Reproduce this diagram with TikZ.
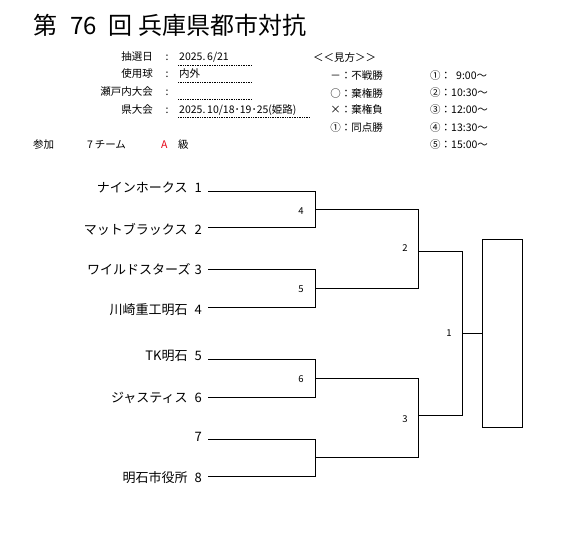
\documentclass[tikz,border=0pt]{standalone}
\usepackage{fontspec}
\setmainfont{Noto Sans CJK JP}
\usetikzlibrary{positioning}
\definecolor{gradeRed}{HTML}{E60012}

\begin{document}
\begin{tikzpicture}[x=1pt, y=-1pt,
    team/.style={anchor=east, inner sep=0pt, font=\fontsize{13}{14}\selectfont},
    info/.style={inner sep=0pt, font=\fontsize{10.5}{11}\selectfont},
    mnum/.style={inner sep=0pt, font=\fontsize{9.5}{10}\selectfont},
    brk/.style={line width=0.8pt},
    dotl/.style={densely dotted, line width=0.7pt},
  ]
    \useasboundingbox (0,0) rectangle (563,536);

    % title
    \node[anchor=west, inner sep=0pt, font=\fontsize{24}{26}\selectfont]
      (title) at (33,25) {第\hspace{13pt}76\hspace{12pt}回\hspace{6pt}兵庫県都市対抗};

    % header
    \node[info, anchor=east] (lab1) at (153,57)  {抽選日};
    \node[info, anchor=east] (lab2) at (153,74)  {使用球};
    \node[info, anchor=east] (lab3) at (153,92)  {瀬戸内大会};
    \node[info, anchor=east] (lab4) at (153,110) {県大会};
    \node[info] (col1) at (167,58)  {:};
    \node[info] (col2) at (167,75)  {:};
    \node[info] (col3) at (167,93)  {:};
    \node[info] (col4) at (167,111) {:};
    \node[info, anchor=west] (val1) at (179,57)  {2025.\,6/21};
    \node[info, anchor=west] (val2) at (179,74)  {内外};
    \node[info, anchor=west] (val4) at (179,110) {2025.\,10/18･19･25(姫路)};
    \draw[dotl] (178,65) -- ++(74,0);
    \draw[dotl] (178,82) -- ++(74,0);
    \draw[dotl] (178,99) -- ++(74,0);
    \draw[dotl] (178,117) -- ++(132,0);

    % legend
    \node[info, anchor=west] (key)  at (313,58)  {＜＜見方＞＞};
    \node[info, anchor=east] (key1) at (383,76)  {－：不戦勝};
    \node[info, anchor=east] (key2) at (383,93)  {○：棄権勝};
    \node[info, anchor=east] (key3) at (383,110) {×：棄権負};
    \node[info, anchor=east] (key4) at (383,128) {①：同点勝};
    \node[info, anchor=west] (tm1) at (430,76)  {①：\hspace{5pt}9:00～};
    \node[info, anchor=west] (tm2) at (430,93)  {②：10:30～};
    \node[info, anchor=west] (tm3) at (430,110) {③：12:00～};
    \node[info, anchor=west] (tm4) at (430,128) {④：13:30～};
    \node[info, anchor=west] (tm5) at (430,145) {⑤：15:00～};

    \node[info, anchor=west] (entry) at (33,145)  {参加};
    \node[info, anchor=west] (nteam) at (87,145)  {7\,チーム};
    \node[info, anchor=west, text=gradeRed] (grade) at (161,145) {A};
    \node[info, anchor=west] (kyu)   at (178,145) {級};

    % teams
    \node[team] (n1) at (202,188) {ナインホークス\hspace{7pt}1};
    \node[team] (n2) at (202,229) {マットブラックス\hspace{7pt}2};
    \node[team] (n3) at (202,269) {ワイルドスターズ\hspace{4pt}3};
    \node[team] (n4) at (202,310) {川崎重工明石\hspace{7pt}4};
    \node[team] (n5) at (202,356) {TK明石\hspace{7pt}5};
    \node[team] (n6) at (202,398) {ジャスティス\hspace{7pt}6};
    \node[team] (n7) at (202,437) {7};
    \node[team] (n8) at (202,478) {明石市役所\hspace{7pt}8};

    \coordinate (t1) at (208,191);
    \coordinate (t2) at (208,227);
    \coordinate (t3) at (208,269);
    \coordinate (t4) at (208,307);
    \coordinate (t5) at (208,359);
    \coordinate (t6) at (208,397);
    \coordinate (t7) at (208,439);
    \coordinate (t8) at (208,476);

    % bracket joins
    \coordinate (m4) at (315,209);
    \coordinate (m5) at (315,288);
    \coordinate (m6) at (315,378);
    \coordinate (m7) at (315,457);
    \coordinate (m2) at (418,251);
    \coordinate (m3) at (418,415);
    \coordinate (m1) at (462,333);
    \node[draw, line width=0.8pt, minimum width=40pt, minimum height=188pt,
          inner sep=0pt] (champ) at (502,333) {};

    \draw[brk] (t1) -| (m4);
    \draw[brk] (t2) -| (m4);
    \draw[brk] (t3) -| (m5);
    \draw[brk] (t4) -| (m5);
    \draw[brk] (t5) -| (m6);
    \draw[brk] (t6) -| (m6);
    \draw[brk] (t7) -| (m7);
    \draw[brk] (t8) -| (m7);
    \draw[brk] (m4) -| (m2);
    \draw[brk] (m5) -| (m2);
    \draw[brk] (m6) -| (m3);
    \draw[brk] (m7) -| (m3);
    \draw[brk] (m2) -| (m1);
    \draw[brk] (m3) -| (m1);
    \draw[brk] (m1) -- (champ.west);

    % match numbers
    \node[mnum] (g4) at (301,211) {4};
    \node[mnum] (g5) at (301,289) {5};
    \node[mnum] (g6) at (301,379) {6};
    \node[mnum] (g2) at (405,248) {2};
    \node[mnum] (g3) at (405,419) {3};
    \node[mnum] (g1) at (449,333) {1};
\end{tikzpicture}
\end{document}
